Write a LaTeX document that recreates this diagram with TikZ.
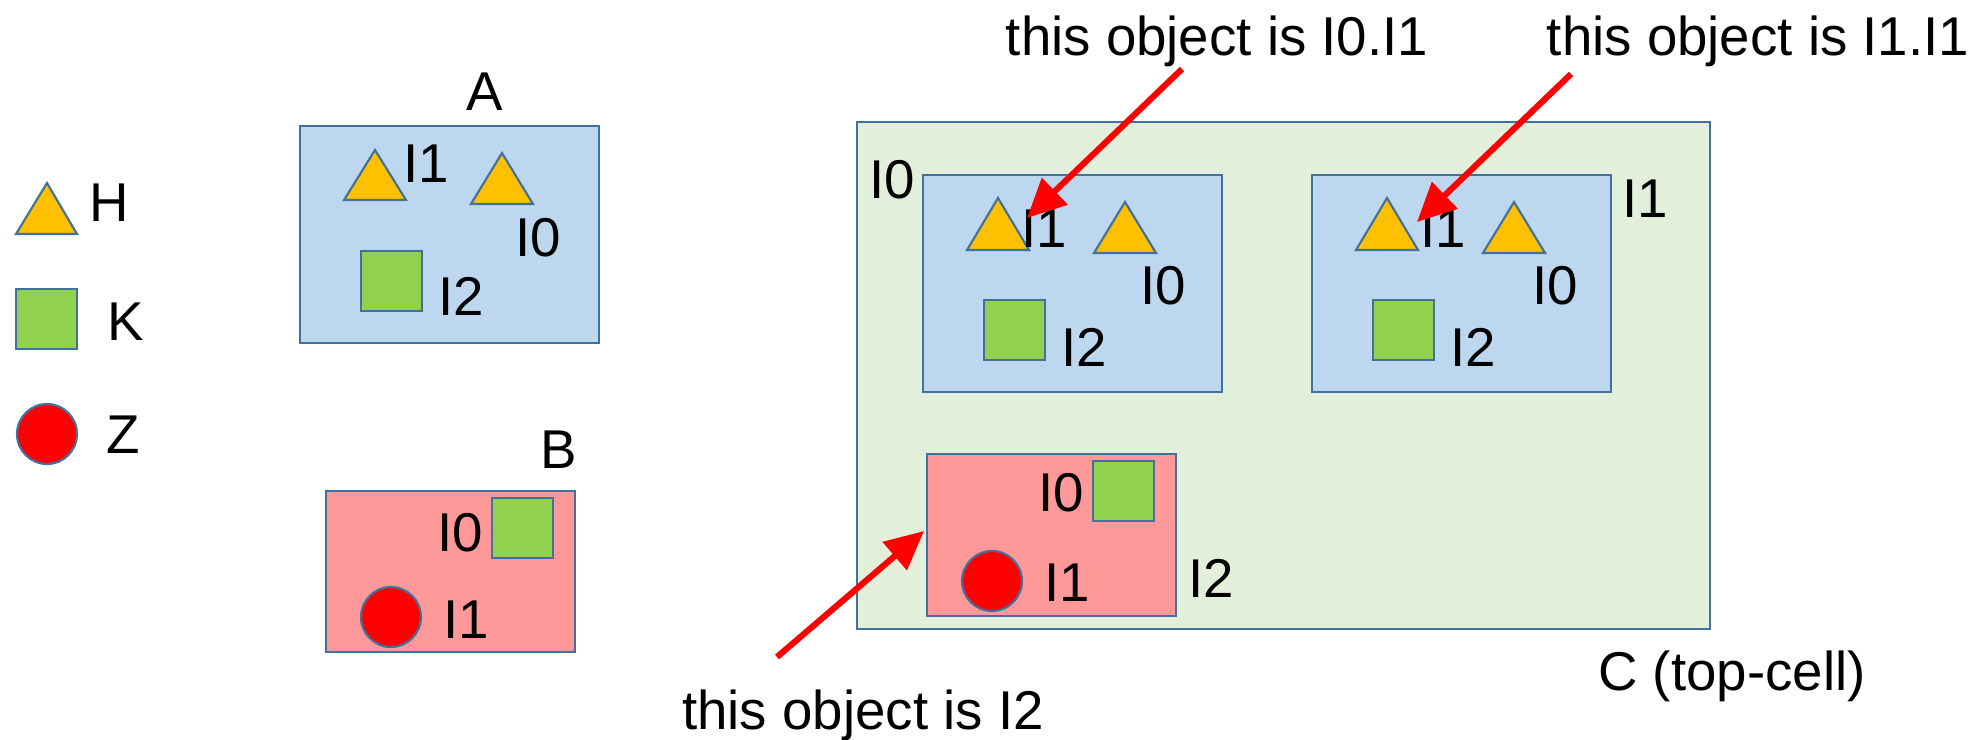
\documentclass[tikz,border=0pt]{standalone}
\usepackage{fontspec}
\setmainfont{Liberation Sans}
\usetikzlibrary{arrows.meta}

\tikzset{every picture/.style={line width=0.75pt}}
\tikzset{
  bluecell/.style={draw={rgb, 255:red, 65; green, 113; blue, 156}, fill={rgb, 255:red, 189; green, 215; blue, 238}, line width=1.6pt},
  redcell/.style={draw={rgb, 255:red, 65; green, 113; blue, 156}, fill={rgb, 255:red, 255; green, 153; blue, 153}, line width=1.6pt},
  topcell/.style={draw={rgb, 255:red, 65; green, 113; blue, 156}, fill={rgb, 255:red, 226; green, 239; blue, 218}, line width=1.6pt},
  hshape/.style={draw={rgb, 255:red, 65; green, 113; blue, 156}, fill={rgb, 255:red, 255; green, 192; blue, 0}, line width=1.6pt, line join=miter},
  kshape/.style={draw={rgb, 255:red, 65; green, 113; blue, 156}, fill={rgb, 255:red, 146; green, 208; blue, 80}, line width=1.6pt},
  zshape/.style={draw={rgb, 255:red, 65; green, 113; blue, 156}, fill={rgb, 255:red, 255; green, 0; blue, 0}, line width=1.6pt},
  lbl/.style={inner sep=0pt, font=\fontsize{41}{48}\selectfont},
  pointer/.style={draw={rgb, 255:red, 255; green, 0; blue, 0}, line width=4.6pt, -{Triangle[length=29pt,width=27pt]}},
}

\begin{document}
\begin{tikzpicture}[x=0.75pt,y=0.75pt,yscale=-1,xscale=1]
\useasboundingbox (0,0) rectangle (1988,739);

%Shape: Rectangle [top cell C]
\draw [topcell] (857,122) rectangle (1710,629);
%Shape: Rectangle [C/I0]
\draw [bluecell] (923,175) rectangle (1222,392);
%Shape: Rectangle [C/I1]
\draw [bluecell] (1312,175) rectangle (1611,392);
%Shape: Rectangle [C/I2]
\draw [redcell] (927,454) rectangle (1176,616);
%Shape: Rectangle [A]
\draw [bluecell] (300,126) rectangle (599,343);
%Shape: Rectangle [B]
\draw [redcell] (326,491) rectangle (575,652);

% legend
\draw [hshape] (47,183) -- (77,234) -- (16,234) -- cycle ;
\draw [kshape] (16,289) rectangle (77,349);
\draw [zshape] (47,434) circle (30);

% cell A
\draw [hshape] (375,150) -- (406,200) -- (344,200) -- cycle ;
\draw [hshape] (502,153) -- (533,204) -- (471,204) -- cycle ;
\draw [kshape] (361,251) rectangle (422,311);
% cell B
\draw [kshape] (492,498) rectangle (553,558);
\draw [zshape] (391,617) circle (30);
% C/I0
\draw [hshape] (998,198) -- (1029,250) -- (967,250) -- cycle ;
\draw [hshape] (1125,202) -- (1156,253) -- (1094,253) -- cycle ;
\draw [kshape] (984,300) rectangle (1045,360);
% C/I1
\draw [hshape] (1387,198) -- (1418,250) -- (1356,250) -- cycle ;
\draw [hshape] (1514,202) -- (1545,253) -- (1483,253) -- cycle ;
\draw [kshape] (1373,300) rectangle (1434,360);
% C/I2
\draw [kshape] (1093,461) rectangle (1154,521);
\draw [zshape] (992,581) circle (30);

% Text Node
\node [lbl] (legH) at (109,203) {H};
\node [lbl] (legK) at (126,322) {K};
\node [lbl] (legZ) at (123,435) {Z};
% Text Node
\node [lbl] (cellA) at (485,92) {A};
\node [lbl] (aI1) at (426,164) {I1};
\node [lbl] (aI0) at (538,238) {I0};
\node [lbl] (aI2) at (461,296) {I2};
% Text Node
\node [lbl] (cellB) at (559,450) {B};
\node [lbl] (bI0) at (460,533) {I0};
\node [lbl] (bI1) at (466,620) {I1};
% Text Node
\node [lbl, anchor=base] (cellC) at (1732,690) {C (top-cell)};
\node [lbl] (cI0) at (892,180) {I0};
\node [lbl] (cI0I1) at (1044,229) {I1};
\node [lbl] (cI0I0) at (1163,286) {I0};
\node [lbl] (cI0I2) at (1084,347) {I2};
\node [lbl] (cI1) at (1645,199) {I1};
\node [lbl] (cI1I1) at (1443,229) {I1};
\node [lbl] (cI1I0) at (1555,286) {I0};
\node [lbl] (cI1I2) at (1473,347) {I2};
\node [lbl] (cI2) at (1211,578) {I2};
\node [lbl] (cI2I0) at (1061,493) {I0};
\node [lbl] (cI2I1) at (1067,583) {I1};
% Text Node
\node [lbl, anchor=base] (noteA) at (1217,55) {this object is I0.I1};
\node [lbl, anchor=base] (noteB) at (1758,55) {this object is I1.I1};
\node [lbl, anchor=base] (noteC) at (863,729) {this object is I2};

%Straight Lines [pointers]
\coordinate (fromA) at (1182,69);
\coordinate (toA) at (1027,218);
\coordinate (fromB) at (1571,74);
\coordinate (toB) at (1417,222);
\coordinate (fromC) at (777,657);
\coordinate (toC) at (924,531);
\draw [pointer] (fromA) -- (toA);
\draw [pointer] (fromB) -- (toB);
\draw [pointer] (fromC) -- (toC);

\end{tikzpicture}
\end{document}
